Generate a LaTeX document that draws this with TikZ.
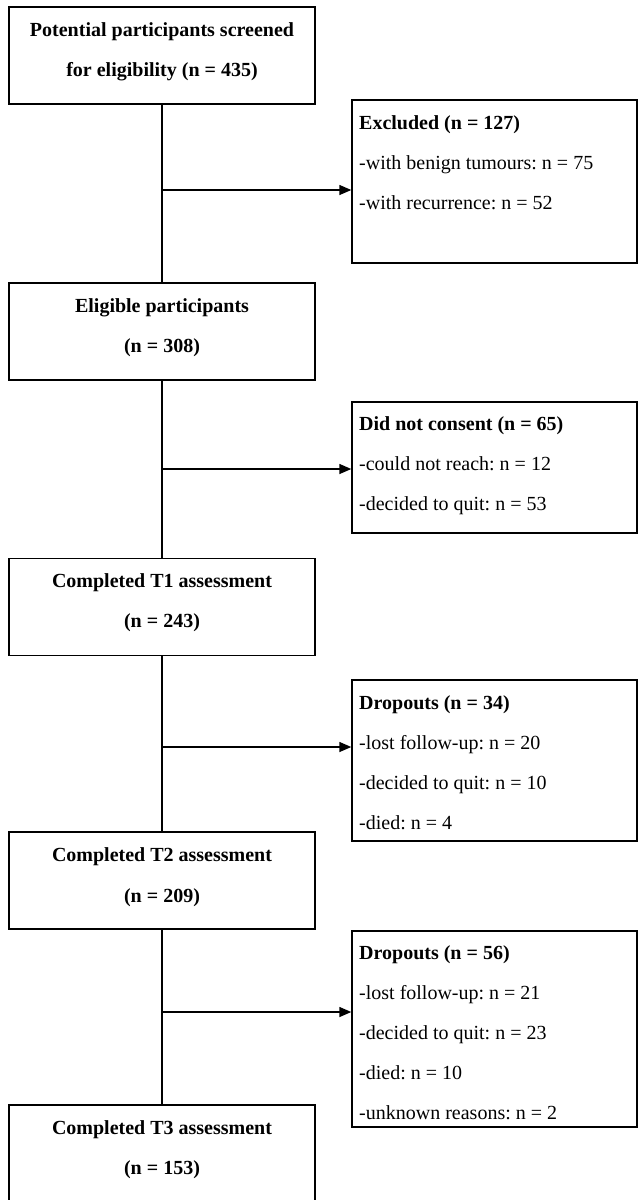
\documentclass[tikz,border=0pt]{standalone}
\usepackage{fontspec}
\setmainfont{Liberation Serif}
\usetikzlibrary{arrows.meta, positioning}
\frenchspacing

\tikzset{
    stagebox/.style={draw, line width=1.4pt, minimum width=306pt, minimum height=97pt, inner sep=0pt},
    sidebox/.style={draw, line width=1.4pt, minimum width=285pt, inner sep=0pt},
    stagetext/.style={font=\fontsize{20}{24}\selectfont\bfseries, anchor=base, inner sep=0pt},
    sidetext/.style={font=\fontsize{20}{24}\selectfont, anchor=base west, inner sep=0pt},
    flow/.style={line width=1.4pt},
    flowarrow/.style={flow, -{Triangle[length=12pt, width=10pt]}}
}

\begin{document}
\begin{tikzpicture}[x=1pt, y=-1pt]
    \useasboundingbox (0, 0) rectangle (638, 1200);
    \clip (0, 0) rectangle (638, 1200);

    % stages on the left
    \node[stagebox] (screen) at (162, 55.5) {};
    \node[stagebox] (elig) at (162, 331.5) {};
    \node[stagebox] (tone) at (162, 607) {};
    \node[stagebox] (ttwo) at (162, 880.5) {};
    \node[stagebox] (tthree) at (162, 1153.5) {};

    \node[stagetext] (screen-a) at (162, 36) {Potential participants screened};
    \node[stagetext] (screen-b) at (162, 76) {for eligibility (n = 435)};
    \node[stagetext] (elig-a) at (162, 312) {Eligible participants};
    \node[stagetext] (elig-b) at (162, 352) {(n = 308)};
    \node[stagetext] (tone-a) at (162, 587) {Completed T1 assessment};
    \node[stagetext] (tone-b) at (162, 627) {(n = 243)};
    \node[stagetext] (ttwo-a) at (162, 861) {Completed T2 assessment};
    \node[stagetext] (ttwo-b) at (162, 902) {(n = 209)};
    \node[stagetext] (tthree-a) at (162, 1134) {Completed T3 assessment};
    \node[stagetext] (tthree-b) at (162, 1174) {(n = 153)};

    % losses on the right
    \node[sidebox, minimum height=163pt] (excl) at (494.5, 181.5) {};
    \node[sidebox, minimum height=131pt] (nocons) at (494.5, 467.5) {};
    \node[sidebox, minimum height=161pt] (dropa) at (494.5, 760.5) {};
    \node[sidebox, minimum height=196pt] (dropb) at (494.5, 1029) {};

    \foreach \txt [count=\i] in {\textbf{Excluded (n = 127)}, -with benign tumours: n = 75, -with recurrence: n = 52}
        \node[sidetext] (excl-\i) at (359, 89 + 40*\i) {\txt};
    \foreach \txt [count=\i] in {\textbf{Did not consent (n = 65)}, -could not reach: n = 12, -decided to quit: n = 53}
        \node[sidetext] (nocons-\i) at (359, 390 + 40*\i) {\txt};
    \foreach \txt [count=\i] in {\textbf{Dropouts (n = 34)}, -lost follow-up: n = 20, -decided to quit: n = 10, -died: n = 4}
        \node[sidetext] (dropa-\i) at (359, 669 + 40*\i) {\txt};
    \foreach \txt [count=\i] in {\textbf{Dropouts (n = 56)}, -lost follow-up: n = 21, -decided to quit: n = 23, -died: n = 10, -unknown reasons: n = 2}
        \node[sidetext] (dropb-\i) at (359, 919 + 40*\i) {\txt};

    % trunk and branches
    \draw[flow] (screen) -- (elig) -- (tone) -- (ttwo) -- (tthree);

    \coordinate (ja) at (162, 190);
    \coordinate (jb) at (162, 469);
    \coordinate (jc) at (162, 747);
    \coordinate (jd) at (162, 1012);
    \draw[flowarrow] (ja) -- (ja -| excl.west);
    \draw[flowarrow] (jb) -- (jb -| nocons.west);
    \draw[flowarrow] (jc) -- (jc -| dropa.west);
    \draw[flowarrow] (jd) -- (jd -| dropb.west);
\end{tikzpicture}
\end{document}
